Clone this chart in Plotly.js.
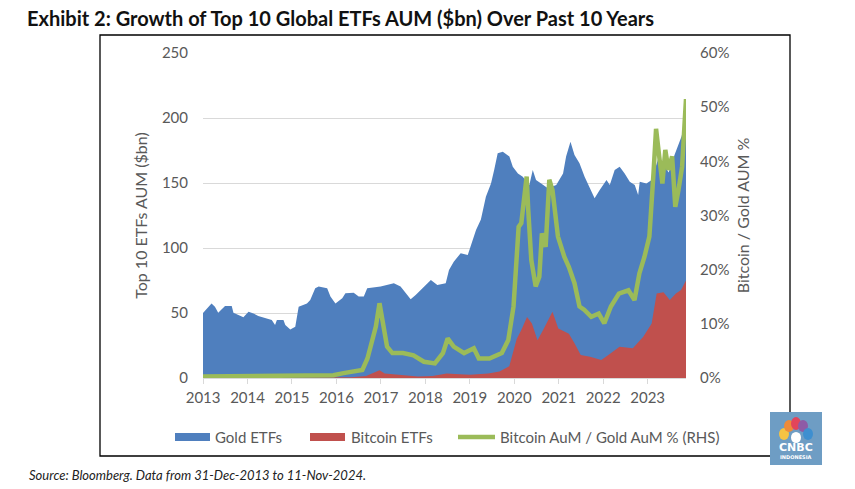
<!DOCTYPE html>
<html>
<head>
<meta charset="utf-8">
<script src="https://cdn.plot.ly/plotly-3.0.1.min.js"></script>
<style>html,body{margin:0;padding:0;background:#fff;}#chart{width:855px;height:489px;}</style>
</head>
<body>
<div id="chart"></div>
<script>
// ---- Data ----
const goldDates = ["2013-12-31","2014-03-11","2014-04-08","2014-05-05","2014-06-30","2014-08-24","2014-09-07","2014-11-28","2015-01-09","2015-02-19","2015-03-30","2015-07-19","2015-08-15","2015-08-30","2015-10-23","2015-11-07","2015-12-18","2016-01-28","2016-02-25","2016-05-03","2016-05-30","2016-07-10","2016-08-07","2016-10-16","2016-11-12","2016-12-23","2017-02-17","2017-03-15","2017-05-22","2017-07-02","2017-08-13","2017-09-10","2017-12-29","2018-04-17","2018-06-11","2018-08-05","2018-09-02","2018-10-13","2018-12-21","2019-02-15","2019-04-09","2019-06-17","2019-07-14","2019-08-22","2019-10-18","2019-12-15","2020-02-21","2020-04-01","2020-05-12","2020-06-23","2020-07-19","2020-08-17","2020-09-28","2020-11-21","2020-12-19","2021-01-30","2021-03-11","2021-05-04","2021-06-01","2021-06-28","2021-08-09","2021-10-03","2021-12-11","2022-02-05","2022-03-02","2022-04-07","2022-05-10","2022-06-20","2022-08-01","2022-08-28","2022-10-22","2022-12-03","2023-01-28","2023-02-24","2023-04-05","2023-05-16","2023-06-26","2023-08-07","2023-09-17","2023-10-15","2023-10-28","2023-12-22","2024-02-03","2024-04-01","2024-05-10","2024-06-21","2024-08-10","2024-10-06","2024-11-01","2024-11-11"];
const goldEtfs  = [50,57.4,54.8,50.2,55.4,55.4,50.2,46.7,51,49.7,47.7,44.6,40.8,44.6,44.6,40.8,37.4,39.5,54.8,57.4,60,69,70.3,69,62.6,57.4,61.3,65.1,65.6,62.6,62.6,69,70.3,72.8,70.3,63.8,60.5,63.8,70.3,75.4,71.5,72.8,83,89.5,96,94.6,113.8,122,139.5,149.7,160,172.8,174.1,170.3,162.5,157.4,154.9,148.5,160,152.3,149.7,145.9,148.5,157.4,170.3,181.8,171.5,165.1,154.9,149.7,138.2,144.6,152.3,148.5,160,162.5,157.4,151,148.5,140.8,151,149.7,152.3,170,165,158,172,186,198,200];

const btcDates = ["2013-12-31","2017-05-01","2017-09-01","2017-12-20","2018-02-01","2018-06-01","2018-11-01","2019-03-01","2019-06-25","2019-09-01","2019-12-31","2020-06-01","2020-09-01","2020-11-20","2020-12-31","2021-01-20","2021-02-27","2021-04-15","2021-05-25","2021-07-10","2021-08-25","2021-11-10","2021-12-28","2022-03-25","2022-05-10","2022-06-30","2022-09-15","2022-12-16","2023-02-12","2023-05-15","2023-09-01","2023-11-26","2024-02-03","2024-03-15","2024-05-10","2024-07-01","2024-08-20","2024-10-01","2024-11-11"];
const btcEtfs  = [0,0.5,1.5,6,3.5,2.5,1.2,1.5,3.5,3,2.5,3.5,5,9,22,30,37,47,42,29,37,51,38,34,26.7,17.7,16.4,13.8,17.7,24,22.8,31.8,42,65,66,60,65,67.7,75];

const ratioDates = ["2013-12-31","2016-06-01","2016-12-06","2017-02-27","2017-06-01","2017-08-01","2017-09-12","2017-11-20","2017-12-20","2018-01-20","2018-02-20","2018-04-05","2018-07-01","2018-09-25","2018-12-20","2019-03-20","2019-05-25","2019-07-03","2019-08-22","2019-11-15","2020-02-03","2020-03-15","2020-06-10","2020-09-20","2020-11-12","2020-12-25","2021-01-15","2021-02-05","2021-02-27","2021-03-20","2021-04-01","2021-04-12","2021-04-25","2021-05-20","2021-06-25","2021-07-25","2021-08-15","2021-09-15","2021-10-15","2021-11-10","2021-12-25","2022-02-15","2022-03-25","2022-05-10","2022-06-20","2022-07-28","2022-09-25","2022-11-25","2023-01-10","2023-03-05","2023-05-10","2023-07-27","2023-09-15","2023-10-25","2023-12-06","2024-01-15","2024-02-18","2024-03-10","2024-04-05","2024-05-01","2024-05-25","2024-06-20","2024-07-20","2024-08-15","2024-09-10","2024-10-10","2024-11-11"];
const ratioPct  = [0.3,0.3,0.5,0.9,1.2,1.5,3.6,9.5,13.8,9.5,5.8,4.6,4.6,4.2,3.0,2.7,4.6,7.3,5.8,4.6,5.5,3.6,3.6,4.6,7,13.2,20.5,27.9,28.6,32.9,34.7,37.2,31,21.8,16.9,18.7,26.7,24.2,36.6,34.7,26.1,22.4,20.5,17.5,13.2,12.6,11.3,11.9,10.1,13.2,15.6,16.2,14.4,19.3,22.4,26.1,37.8,46,40.9,35.9,42.1,38.4,40.9,31.6,34.7,39,51.5];

const yearTickVals = ["2014-01-01","2015-01-01","2016-01-01","2017-01-01","2018-01-01","2019-01-01","2020-01-01","2021-01-01","2022-01-01","2023-01-01","2024-01-01"];
const yearTickText = ["2013","2014","2015","2016","2017","2018","2019","2020","2021","2022","2023"];

const seriesNames = ["Gold ETFs","Bitcoin ETFs","Bitcoin AuM / Gold AuM % (RHS)"];
const colors = {gold:"#4F7FBE", btc:"#C0504D", ratio:"#9BBB59"};

// ---- helpers: pixel -> paper conversion for decorations ----
const L=203,R=686,T=53,B=378;
const px=x=>(x-L)/(R-L), py=y=>(B-y)/(B-T);

const FONT="Lato, 'Open Sans', sans-serif";
const GREY="#595959";

const traces=[
 {x:goldDates,y:goldEtfs,type:"scatter",mode:"lines",fill:"tozeroy",fillcolor:colors.gold,line:{width:0,color:colors.gold},name:seriesNames[0],showlegend:false},
 {x:btcDates,y:btcEtfs,type:"scatter",mode:"lines",fill:"tozeroy",fillcolor:colors.btc,line:{width:0,color:colors.btc},name:seriesNames[1],showlegend:false},
 {x:ratioDates,y:ratioPct,type:"scatter",mode:"lines",yaxis:"y2",line:{width:4.5,color:colors.ratio},name:seriesNames[2],showlegend:false}
];

const shapes=[
 {type:"rect",xref:"paper",yref:"paper",x0:px(100),x1:px(790),y0:py(456),y1:py(35),line:{color:"#000",width:1.3},fillcolor:"rgba(0,0,0,0)",layer:"above"},
 {type:"rect",xref:"paper",yref:"paper",x0:px(175),x1:px(210),y0:py(441),y1:py(433),line:{width:0},fillcolor:colors.gold},
 {type:"rect",xref:"paper",yref:"paper",x0:px(310),x1:px(345),y0:py(441),y1:py(433),line:{width:0},fillcolor:colors.btc},
 {type:"line",xref:"paper",yref:"paper",x0:px(458),x1:px(495),y0:py(437),y1:py(437),line:{width:4.5,color:colors.ratio}},
 // logo badge
 {type:"rect",xref:"paper",yref:"paper",x0:px(770),x1:px(822),y0:py(465),y1:py(412),line:{width:0},fillcolor:"#6E9DC4",layer:"above"},
 {type:"circle",xref:"paper",yref:"paper",x0:px(779),x1:px(789),y0:py(440),y1:py(428),line:{width:0},fillcolor:"#F6C343",layer:"above"},
 {type:"circle",xref:"paper",yref:"paper",x0:px(784),x1:px(794),y0:py(432),y1:py(420),line:{width:0},fillcolor:"#EE8B3A",layer:"above"},
 {type:"circle",xref:"paper",yref:"paper",x0:px(791),x1:px(801),y0:py(430),y1:py(417),line:{width:0},fillcolor:"#E2455B",layer:"above"},
 {type:"circle",xref:"paper",yref:"paper",x0:px(798),x1:px(808),y0:py(432),y1:py(420),line:{width:0},fillcolor:"#8E5BA6",layer:"above"},
 {type:"circle",xref:"paper",yref:"paper",x0:px(803),x1:px(813),y0:py(440),y1:py(428),line:{width:0},fillcolor:"#3E8FD0",layer:"above"},
 {type:"circle",xref:"paper",yref:"paper",x0:px(791),x1:px(801),y0:py(443),y1:py(432),line:{width:0},fillcolor:"#FFFFFF",layer:"above"}
];

const annotations=[
 {xref:"paper",yref:"paper",x:px(213),y:py(437),xanchor:"left",yanchor:"middle",text:seriesNames[0],showarrow:false,font:{family:FONT,size:15,color:GREY}},
 {xref:"paper",yref:"paper",x:px(349),y:py(437),xanchor:"left",yanchor:"middle",text:seriesNames[1],showarrow:false,font:{family:FONT,size:15,color:GREY}},
 {xref:"paper",yref:"paper",x:px(498),y:py(437),xanchor:"left",yanchor:"middle",text:seriesNames[2],showarrow:false,font:{family:FONT,size:15,color:GREY}},
 {xref:"paper",yref:"paper",x:px(27),y:py(475),xanchor:"left",yanchor:"middle",text:"<i>Source: Bloomberg. Data from 31-Dec-2013 to 11-Nov-2024.</i>",showarrow:false,font:{family:FONT,size:13,color:"#222"}},
 {xref:"paper",yref:"paper",x:px(796),y:py(447),xanchor:"center",yanchor:"middle",text:"<b>CNBC</b>",showarrow:false,font:{family:"'DejaVu Sans', sans-serif",size:11,color:"#fff"}},
 {xref:"paper",yref:"paper",x:px(796),y:py(457),xanchor:"center",yanchor:"middle",text:"<b>INDONESIA</b>",showarrow:false,font:{family:"'DejaVu Sans', sans-serif",size:5,color:"#fff"}}
];

const layout={
 width:855,height:489,
 margin:{l:L,r:855-R,t:T,b:489-B,pad:0},
 paper_bgcolor:"#fff",plot_bgcolor:"#fff",
 showlegend:false,
 title:{text:"<b>Exhibit 2: Growth of Top 10 Global ETFs AUM ($bn) Over Past 10 Years</b>",x:27/855,xanchor:"left",xref:"container",y:1-19/489,yanchor:"middle",yref:"container",font:{family:FONT,size:20,color:"#111"}},
 xaxis:{type:"date",range:["2013-12-31","2024-11-11"],tickmode:"array",tickvals:yearTickVals,ticktext:yearTickText,
   showgrid:false,zeroline:false,showline:true,linecolor:"#d9d9d9",linewidth:1,ticks:"outside",ticklen:5,tickcolor:"#d9d9d9",
   tickfont:{family:FONT,size:15,color:GREY},ticklabelstandoff:1},
 yaxis:{range:[0,250],dtick:50,tick0:0,showgrid:true,gridcolor:"#d9d9d9",gridwidth:1,zeroline:false,showline:false,ticks:"",
   tickfont:{family:FONT,size:15,color:GREY},ticklabelstandoff:14,
   title:{text:"Top 10 ETFs AUM ($bn)",font:{family:FONT,size:16,color:GREY},standoff:10}},
 yaxis2:{range:[0,60],dtick:10,tick0:0,overlaying:"y",side:"right",showgrid:false,zeroline:false,showline:false,ticks:"",ticksuffix:"%",
   tickfont:{family:FONT,size:15,color:GREY},ticklabelstandoff:13,
   title:{text:"Bitcoin / Gold AUM %",font:{family:FONT,size:16,color:GREY},standoff:9}},
 shapes:shapes,annotations:annotations
};

Plotly.newPlot("chart",traces,layout,{staticPlot:true,displayModeBar:false});
</script>
</body>
</html>
